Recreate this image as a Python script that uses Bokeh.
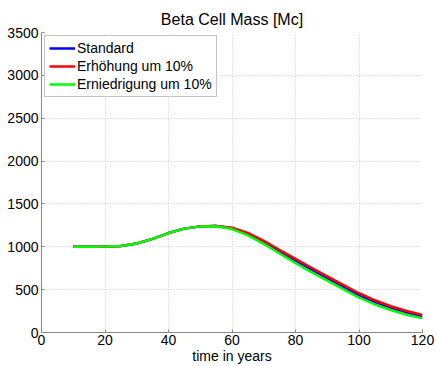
from bokeh.plotting import figure
from bokeh.models import FixedTicker, Range1d, Legend, LegendItem
from bokeh.embed import file_html
from bokeh.resources import INLINE

years = [10, 15, 20, 25, 30, 35, 40, 45, 50, 55, 60, 65, 70, 75, 80, 85, 90, 95, 100, 105, 110, 115, 120]
standard = [1000, 1000, 1002, 1010, 1038, 1092, 1160, 1212, 1238, 1242, 1215, 1148, 1052, 942, 835, 730, 630, 530, 432, 352, 285, 230, 185]
erhoehung = [1000, 1000, 1002, 1010, 1038, 1092, 1160, 1212, 1238, 1244, 1223, 1162, 1070, 962, 860, 755, 655, 555, 458, 376, 306, 250, 205]
erniedrigung = [1000, 1000, 1002, 1010, 1038, 1092, 1160, 1212, 1238, 1240, 1207, 1134, 1034, 922, 810, 705, 605, 505, 406, 327, 262, 207, 165]

x_ticks = [0, 20, 40, 60, 80, 100, 120]
y_ticks = [0, 500, 1000, 1500, 2000, 2500, 3000, 3500]

FONT = "Liberation Sans"

p = figure(width=437, height=366, output_backend="svg", toolbar_location=None,
           x_range=Range1d(0, 120), y_range=Range1d(0, 3500),
           title="Beta Cell Mass [Mc]",
           min_border_left=41, min_border_right=15, min_border_top=32, min_border_bottom=33)
p.title.align = "center"
p.title.text_font = FONT
p.title.text_font_size = "16px"
p.title.text_font_style = "normal"
p.title.text_color = "black"
p.title.offset = 0
p.outline_line_color = None
p.background_fill_color = "white"
p.border_fill_color = "white"

r1 = p.line(years, standard, line_color="#0000ff", line_width=2.5, line_join="round")
r2 = p.line(years, erhoehung, line_color="#ff0000", line_width=2.5, line_join="round")
r3 = p.line(years, erniedrigung, line_color="#00ff00", line_width=2.5, line_join="round")

for ax in (p.xaxis[0], p.yaxis[0]):
    ax.axis_line_color = "#888888"
    ax.major_tick_line_color = "#888888"
    ax.major_tick_in = 3
    ax.major_tick_out = 0
    ax.minor_tick_line_color = None
    ax.major_label_text_font = FONT
    ax.major_label_text_font_size = "14px"
    ax.major_label_text_color = "black"
    ax.axis_label_text_font = FONT
    ax.axis_label_text_font_size = "14px"
    ax.axis_label_text_font_style = "normal"
    ax.axis_label_text_color = "black"

p.xaxis.ticker = FixedTicker(ticks=x_ticks)
p.yaxis.ticker = FixedTicker(ticks=y_ticks)
p.xaxis.axis_label = "time in years"
p.xaxis.axis_label_standoff = 0
p.xaxis.major_label_standoff = 2
p.yaxis.major_label_standoff = 3

for g in (p.xgrid[0], p.ygrid[0]):
    g.grid_line_color = "#c8c8c8"
    g.grid_line_dash = "1 2"
    g.grid_line_width = 1

legend = Legend(items=[
    LegendItem(label="Standard", renderers=[r1]),
    LegendItem(label="Erhöhung um 10%", renderers=[r2]),
    LegendItem(label="Erniedrigung um 10%", renderers=[r3]),
], location="top_left")
legend.margin = 3
legend.padding = 4
legend.spacing = 2
legend.glyph_width = 26
legend.glyph_height = 16
legend.label_height = 16
legend.label_standoff = 2
legend.label_text_font = FONT
legend.label_text_font_size = "14px"
legend.label_text_color = "black"
legend.border_line_color = "#888888"
legend.border_line_width = 1
legend.background_fill_alpha = 1
p.add_layout(legend)

open("out.html", "w").write(file_html(p, INLINE))
